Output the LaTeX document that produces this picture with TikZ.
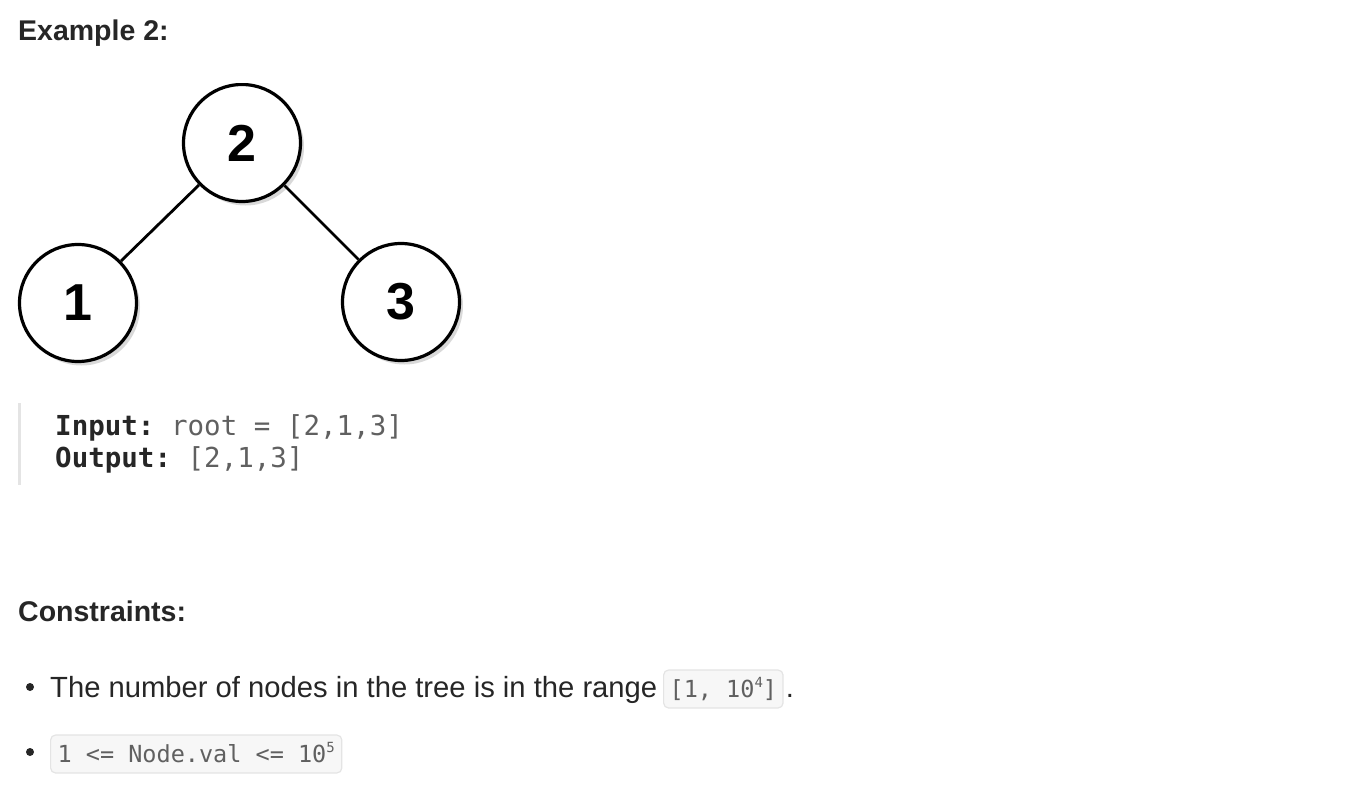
\documentclass[tikz,border=0pt]{standalone}
\usepackage{fontspec}
\setmainfont{Liberation Sans}
\setmonofont{DejaVu Sans Mono}
\usetikzlibrary{shadows}
\definecolor{ink}{HTML}{262626}
\definecolor{codegray}{HTML}{606060}
\definecolor{quotebar}{HTML}{E4E4E4}
\definecolor{boxfill}{HTML}{F7F7F7}
\definecolor{boxline}{HTML}{E4E4E4}
\newcommand{\supnum}[1]{\raisebox{0.42em}{\fontsize{14}{14}\selectfont #1}}
\begin{document}
\begin{tikzpicture}[x=1pt,y=-1pt,
  treenode/.style={circle, draw=black, line width=3.2pt, fill=white,
    minimum size=117pt, inner sep=0pt,
    font=\fontsize{52}{52}\selectfont\bfseries, text=black,
    drop shadow={opacity=0.3, shadow xshift=3.5pt, shadow yshift=-4pt}},
  treeedge/.style={draw=black, line width=2.8pt},
  heading/.style={anchor=base west, inner sep=0pt, text=ink,
    font=\fontsize{28.5}{30}\selectfont\bfseries},
  codeline/.style={anchor=base west, inner sep=0pt,
    font=\fontsize{27.5}{30}\selectfont\ttfamily},
  bodytext/.style={anchor=base west, inner sep=0pt, text=ink,
    font=\fontsize{29.2}{30}\selectfont},
  bulletdot/.style={circle, fill=ink, minimum size=8pt, inner sep=0pt},
  codebox/.style={anchor=base west, draw=boxline, fill=boxfill, line width=1.2pt,
    rounded corners=5pt, inner xsep=6pt, inner ysep=0pt,
    text height=27pt, text depth=11pt, text=codegray,
    font=\fontsize{23.5}{26}\selectfont\ttfamily}]
\useasboundingbox (0,0) rectangle (1364,800);

\node[heading] (title) at (18,41) {Example 2:};

\begin{scope}
  \clip (0,83) rectangle (1364,800);
  \node[treenode] (n2) at (242,143) {2};
  \node[treenode] (n1) at (78,303) {1};
  \node[treenode] (n3) at (401,302) {3};
  \draw[treeedge] (n2) -- (n1);
  \draw[treeedge] (n2) -- (n3);
\end{scope}

\coordinate (qtop) at (19.5,403);
\coordinate (qbot) at (19.5,485);
\draw[quotebar, line width=3pt] (qtop) -- (qbot);
\node[codeline] (input) at (55,435) {\textcolor{ink}{\bfseries Input:} \textcolor{codegray}{root = [2,1,3]}};
\node[codeline] (output) at (55,467) {\textcolor{ink}{\bfseries Output:} \textcolor{codegray}{[2,1,3]}};

\node[heading] (cons) at (18,621) {Constraints:};

\node[bulletdot] (b1) at (30,687) {};
\node[bodytext] (t1) at (50,697) {The number of nodes in the tree is in the range};
\node[codebox] (box1) at (663,697) {[1, 10\supnum{4}]};
\node[bodytext, anchor=base west] (dot1) at ([xshift=2pt]box1.base east) {.};

\node[bulletdot] (b2) at (30,752) {};
\node[codebox, inner xsep=7pt] (box2) at (50,762) {1 <= Node.val <= 10\supnum{5}};
\end{tikzpicture}
\end{document}
